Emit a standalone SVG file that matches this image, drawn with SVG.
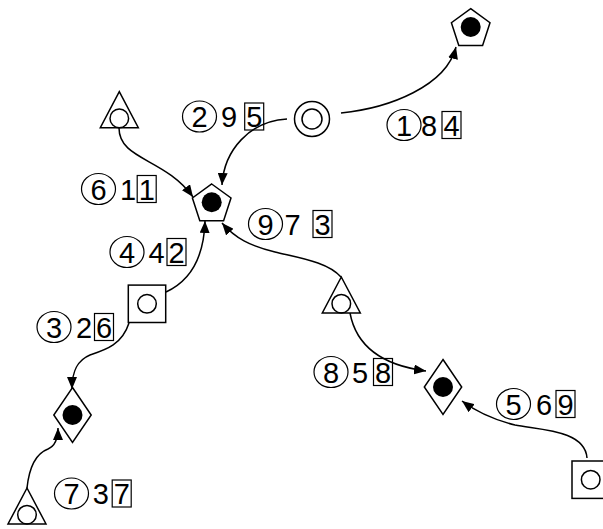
<svg xmlns="http://www.w3.org/2000/svg" width="603" height="529" viewBox="0 0 603 529">
<style>
.s{fill:#fff;stroke:#000;stroke-width:1.5}
.o{fill:none;stroke:#000;stroke-width:1.5}
.f{fill:#000}
.e{fill:none;stroke:#000;stroke-width:1.5}
.lb{fill:none;stroke:#000;stroke-width:1.2}
text{font-family:"Liberation Sans",Arial,sans-serif;font-size:29px;fill:#000;text-anchor:middle}
</style>
<defs>
<marker id="arr" viewBox="0 0 12 10" refX="12" refY="5" markerWidth="12" markerHeight="10" markerUnits="userSpaceOnUse" orient="auto">
<path d="M0,0 L12,5 L0,10 z" fill="#000"/>
</marker>
<polygon id="pent" points="0,-18.3 19.3,-4.3 11.9,18.4 -11.9,18.4 -19.3,-4.3"/>
<polygon id="tri" points="0,-18 19,18 -19,18"/>
<polygon id="dia" points="0,-27.5 18.7,0 0,27.5 -18.7,0"/>
</defs>
<rect width="603" height="529" fill="#fff"/>
<g id="connectors">
<path class="e" marker-end="url(#arr)" d="M341,113 C390,108 446,86 456,47"/>
<path class="e" marker-end="url(#arr)" d="M287,119 C250,121 224,150 222,185"/>
<path class="e" marker-end="url(#arr)" d="M119,128 C119,160 165,158 193,197"/>
<path class="e" marker-end="url(#arr)" d="M166,292 C192,280 204,255 205,221"/>
<path class="e" marker-end="url(#arr)" d="M341,277 C328,262 300,258 275,252 C250,246 235,238 222,223"/>
<path class="e" marker-end="url(#arr)" d="M350,313 C356,345 380,365 426,371"/>
<path class="e" marker-end="url(#arr)" d="M587,458 C585,430 540,430 515,425 C495,420 478,413 462,401"/>
<path class="e" marker-end="url(#arr)" d="M129,323 C122,345 105,350 90,355 C78,360 72,370 72,389"/>
<path class="e" marker-end="url(#arr)" d="M27,488 C30,460 40,452 48,449 C55,446 58,440 58,428"/>
</g>
<g id="n-pent-top" transform="translate(470.7,27)"><use href="#pent" class="s"/><circle r="10" class="f"/></g>
<g id="n-dcircle" transform="translate(312,119)"><circle r="17.5" class="s"/><circle r="10" class="o"/></g>
<g id="n-tri-topleft" transform="translate(119.3,109.7)"><use href="#tri" class="s"/><circle cy="8.7" r="9.3" class="o"/></g>
<g id="n-pent-center" transform="translate(211.7,202.3)"><use href="#pent" class="s"/><circle r="10" class="f"/></g>
<g id="n-square-mid" transform="translate(147,303.8)"><rect x="-18.7" y="-18.7" width="37.4" height="37.4" class="s"/><circle r="9.3" class="o"/></g>
<g id="n-tri-right" transform="translate(341.3,295)"><use href="#tri" class="s"/><circle cy="8.7" r="9.3" class="o"/></g>
<g id="n-dia-left" transform="translate(72.5,415)"><use href="#dia" class="s"/><circle r="10" class="f"/></g>
<g id="n-dia-right" transform="translate(443,387)"><use href="#dia" class="s"/><circle r="10" class="f"/></g>
<g id="n-square-br" transform="translate(590.7,479.7)"><rect x="-18.7" y="-18.7" width="37.4" height="37.4" class="s"/><circle r="9.3" class="o"/></g>
<g id="n-tri-bottomleft" transform="translate(27,506)"><use href="#tri" class="s"/><circle cy="8.7" r="9.3" class="o"/></g>
<g id="labels">
<g id="l1"><ellipse cx="404" cy="125" rx="17" ry="15.5" class="lb"/><text x="404" y="135.5">1</text><text x="429" y="135.5">8</text><rect x="442" y="111.5" width="19" height="27" class="lb"/><text x="451.5" y="135.5">4</text></g>
<g id="l2"><ellipse cx="199.5" cy="116.5" rx="17" ry="15.5" class="lb"/><text x="199.5" y="127">2</text><text x="229" y="127">9</text><rect x="244.7" y="103" width="19" height="27" class="lb"/><text x="254.2" y="127">5</text></g>
<g id="l3"><ellipse cx="98.5" cy="189" rx="17" ry="15.5" class="lb"/><text x="98.5" y="199.5">6</text><text x="128" y="199.5">1</text><rect x="137.2" y="175.5" width="19" height="27" class="lb"/><text x="146.7" y="199.5">1</text></g>
<g id="l4"><ellipse cx="127" cy="252" rx="17" ry="15.5" class="lb"/><text x="127" y="262.5">4</text><text x="156.5" y="262.5">4</text><rect x="167" y="238.5" width="19" height="27" class="lb"/><text x="176.5" y="262.5">2</text></g>
<g id="l5"><ellipse cx="265.5" cy="224" rx="17" ry="15.5" class="lb"/><text x="265.5" y="234.5">9</text><text x="292.5" y="234.5">7</text><rect x="313" y="210.5" width="19" height="27" class="lb"/><text x="322.5" y="234.5">3</text></g>
<g id="l6"><ellipse cx="54" cy="327" rx="17" ry="15.5" class="lb"/><text x="54" y="337.5">3</text><text x="84" y="337.5">2</text><rect x="94.5" y="313.5" width="19" height="27" class="lb"/><text x="104" y="337.5">6</text></g>
<g id="l7"><ellipse cx="331" cy="372" rx="17" ry="15.5" class="lb"/><text x="331" y="382.5">8</text><text x="360" y="382.5">5</text><rect x="373.5" y="358.5" width="19" height="27" class="lb"/><text x="383" y="382.5">8</text></g>
<g id="l8"><ellipse cx="513.5" cy="404" rx="17" ry="15.5" class="lb"/><text x="513.5" y="414.5">5</text><text x="544" y="414.5">6</text><rect x="556" y="390.5" width="19" height="27" class="lb"/><text x="565.5" y="414.5">9</text></g>
<g id="l9"><ellipse cx="71.5" cy="493.5" rx="17" ry="15.5" class="lb"/><text x="71.5" y="504">7</text><text x="100.7" y="504">3</text><rect x="112.2" y="480" width="19" height="27" class="lb"/><text x="121.7" y="504">7</text></g>
</g>
</svg>
